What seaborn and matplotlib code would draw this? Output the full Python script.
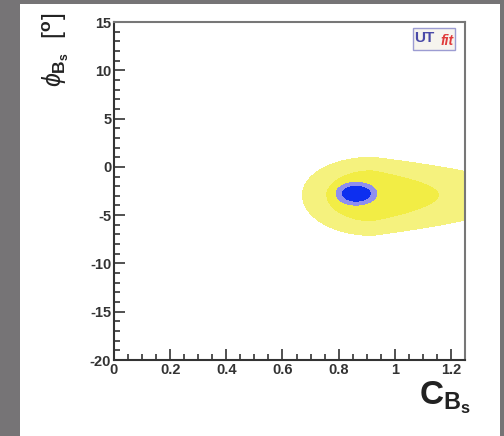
import numpy as np
import seaborn as sns
import matplotlib.pyplot as plt
from matplotlib.patches import Rectangle
from matplotlib.ticker import MultipleLocator

# axis ranges and ticks
x_range = [0, 1.25]
y_range = [-20, 15]
x_ticks = [0, 0.2, 0.4, 0.6, 0.8, 1.0, 1.2]
x_tick_labels = ['0', '0.2', '0.4', '0.6', '0.8', '1', '1.2']
y_ticks = [-20, -15, -10, -5, 0, 5, 10, 15]

# yellow region (other constraint): centre, widths (left, right, up, down)
yel_center = [0.92, -2.9]
yel_width = [0.166, 0.24, 2.6, 2.8]
yel_levels = [1.0, 2.25]
yel_colors = ['#f2ed45', '#f5f27e']

# blue region (full fit): centre, widths
blue_center = [0.862, -2.78]
blue_width = [0.053, 0.055, 0.88, 0.88]
blue_levels = [1.0, 1.8]
blue_colors = ['#0d2ff0', '#8f8fee']


def field(X, Y, c, w, right_pow=2):
    dx = X - c[0]
    dy = Y - c[1]
    fx = np.where(dx < 0, (dx / w[0]) ** 2, np.abs(dx / w[1]) ** right_pow)
    fy = np.where(dy > 0, (dy / w[2]) ** 2, (dy / w[3]) ** 2)
    return fx + fy


sns.set_style("ticks")
plt.rcParams['font.family'] = ['Liberation Sans', 'DejaVu Sans']
plt.rcParams['mathtext.fontset'] = 'custom'
plt.rcParams['mathtext.rm'] = 'Liberation Sans'
plt.rcParams['mathtext.bf'] = 'Liberation Sans:bold'
plt.rcParams['mathtext.it'] = 'Liberation Sans:italic'
plt.rcParams['axes.unicode_minus'] = False

fig = plt.figure(figsize=(5.04, 4.36), dpi=100)
fig.patch.set_facecolor('#767476')
fig.patches.append(Rectangle((20 / 504, 0), 480 / 504, 432 / 436,
                             transform=fig.transFigure, facecolor='white',
                             edgecolor='none', zorder=-5))

ax = fig.add_axes([114 / 504, 1 - 360 / 436, 351 / 504, 338 / 436])
ax.set_zorder(2)

gx = np.linspace(x_range[0], x_range[1], 600)
gy = np.linspace(y_range[0], y_range[1], 600)
X, Y = np.meshgrid(gx, gy)

Zy = field(X, Y, yel_center, yel_width, right_pow=1)
ax.contourf(X, Y, Zy, levels=[0] + yel_levels, colors=yel_colors)
Zb = field(X, Y, blue_center, blue_width)
ax.contourf(X, Y, Zb, levels=[0] + blue_levels, colors=blue_colors)

ax.set_xlim(x_range)
ax.set_ylim(y_range)
ax.set_xticks(x_ticks)
ax.set_xticklabels(x_tick_labels)
ax.set_yticks(y_ticks)
ax.xaxis.set_minor_locator(MultipleLocator(0.05))
ax.yaxis.set_minor_locator(MultipleLocator(1))
ax.tick_params(which='both', direction='in', color='#333333', width=1.2)
ax.tick_params(which='major', length=8, labelsize=10.5, pad=2)
ax.tick_params(which='minor', length=4)
for lab in ax.get_xticklabels() + ax.get_yticklabels():
    lab.set_fontweight('bold')
    lab.set_color('#333333')
for s in ['left', 'bottom']:
    ax.spines[s].set_color('#333333')
    ax.spines[s].set_linewidth(1.5)
for s in ['top', 'right']:
    ax.spines[s].set_color('#777777')
    ax.spines[s].set_linewidth(1.5)

fig.text(445 / 504, 1 - 398 / 436, r'$\mathbf{C}_{\mathbf{B}_{\mathbf{s}}}$',
         fontsize=24, ha='center', va='center', color='#222222')
fig.text(56 / 504, 1 - 50 / 436, r'$\phi_{\mathbf{B}_{\mathbf{s}}}$  [$\mathbf{^o}$]',
         fontsize=18, rotation=90, ha='center', va='center', color='#222222')

# UTfit logo
ax.add_patch(Rectangle((0.852, 0.917), 0.119, 0.065, transform=ax.transAxes,
                       facecolor='#f6f4ee', edgecolor='#9c9cd2', linewidth=1.0,
                       zorder=5))
ax.text(0.856, 0.953, 'UT', transform=ax.transAxes, fontsize=11, fontweight='bold',
        color='#4a4aa8', ha='left', va='center', zorder=6)
ax.text(0.968, 0.943, 'fit', transform=ax.transAxes, fontsize=10, style='italic',
        fontweight='bold', color='#e03a3a', ha='right', va='center', zorder=6)

fig.savefig('out.png', dpi=100, facecolor=fig.get_facecolor())
